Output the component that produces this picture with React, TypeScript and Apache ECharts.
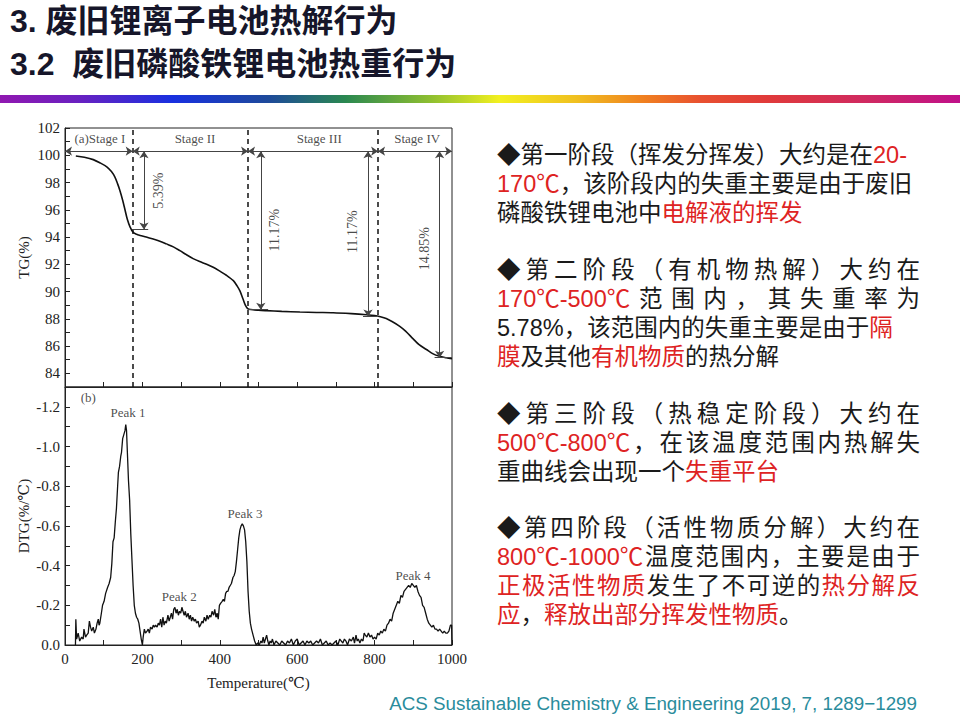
import React, { useEffect, useRef } from 'react';
import * as echarts from 'echarts';

// ---------- data ----------
const tgTemp = [28, 50, 73, 90, 108, 120, 129, 136, 142, 149, 155, 161, 168, 176, 185, 194, 210, 228, 245, 262, 280, 297, 314, 331, 348, 366, 383, 400, 417, 435, 445, 452, 460, 466, 472, 480, 500, 520, 560, 607, 650, 693, 740, 779, 800, 815, 830, 845, 865, 880, 899, 915, 934, 950, 968, 985, 1000];
const tgValue = [99.95, 99.85, 99.68, 99.45, 99.15, 98.8, 98.4, 97.9, 97.4, 96.7, 96.0, 95.3, 94.75, 94.35, 94.2, 94.12, 94.0, 93.85, 93.7, 93.5, 93.28, 93.0, 92.7, 92.42, 92.2, 92.0, 91.78, 91.5, 91.2, 90.8, 90.4, 90.05, 89.45, 89.0, 88.75, 88.68, 88.63, 88.6, 88.55, 88.5, 88.47, 88.45, 88.38, 88.3, 88.24, 88.15, 88.02, 87.8, 87.45, 87.1, 86.55, 86.1, 85.75, 85.45, 85.25, 85.15, 85.08];

const dtgTemp = [27, 28, 30, 34, 38, 43, 47, 49, 53, 56, 60, 63, 66, 69, 73, 76, 80, 83, 86, 88, 90, 94, 97, 101, 105, 110, 114, 118, 121, 124, 127, 130, 133, 136, 138, 141, 144, 146, 149, 152, 155, 157, 159, 161, 164, 167, 170, 173, 176, 179, 182, 185, 188, 191, 194, 197, 200, 202, 205, 208, 212, 215, 218, 221, 225, 228, 231, 234, 238, 241, 244, 247, 250, 253, 256, 259, 262, 266, 269, 272, 275, 278, 281, 284, 287, 290, 293, 296, 299, 302, 305, 308, 311, 314, 318, 321, 324, 327, 330, 334, 337, 340, 344, 347, 350, 354, 357, 360, 364, 367, 370, 374, 377, 380, 384, 387, 390, 393, 396, 399, 402, 406, 409, 412, 415, 418, 421, 424, 427, 430, 434, 437, 440, 443, 446, 449, 452, 455, 458, 461, 464, 467, 470, 473, 476, 479, 482, 486, 490, 494, 498, 502, 506, 509, 512, 515, 518, 521, 524, 527, 530, 533, 536, 540, 545, 550, 555, 560, 565, 570, 575, 580, 585, 590, 595, 600, 605, 610, 615, 620, 625, 630, 635, 640, 645, 650, 655, 660, 665, 670, 675, 680, 685, 690, 695, 700, 705, 710, 714, 718, 722, 726, 730, 735, 740, 745, 748, 752, 755, 758, 762, 766, 770, 773, 776, 780, 784, 788, 792, 796, 800, 804, 808, 812, 816, 820, 824, 828, 832, 836, 840, 844, 848, 852, 856, 860, 864, 868, 872, 876, 880, 884, 888, 892, 896, 900, 904, 908, 912, 916, 920, 924, 928, 932, 936, 940, 944, 948, 952, 956, 960, 964, 968, 972, 976, 980, 984, 988, 992, 996, 999, 1000];
const dtgValue = [0, -0.13, -0.03, -0.06, -0.02, -0.04, -0.03, -0.08, -0.04, -0.05, -0.06, -0.12, -0.09, -0.07, -0.09, -0.06, -0.08, -0.11, -0.13, -0.1, -0.11, -0.16, -0.2, -0.22, -0.26, -0.29, -0.31, -0.34, -0.41, -0.52, -0.54, -0.62, -0.69, -0.8, -0.87, -0.9, -0.95, -0.97, -1.04, -1.06, -1.08, -1.11, -1.08, -0.98, -0.83, -0.73, -0.56, -0.43, -0.3, -0.2, -0.16, -0.14, -0.13, -0.11, -0.07, -0.03, 0.0, -0.04, -0.08, -0.06, -0.07, -0.08, -0.06, -0.09, -0.08, -0.1, -0.09, -0.1, -0.09, -0.11, -0.1, -0.13, -0.09, -0.14, -0.1, -0.12, -0.11, -0.15, -0.12, -0.14, -0.16, -0.13, -0.18, -0.19, -0.16, -0.18, -0.15, -0.17, -0.16, -0.19, -0.17, -0.15, -0.17, -0.14, -0.16, -0.13, -0.15, -0.12, -0.14, -0.12, -0.13, -0.11, -0.12, -0.09, -0.1, -0.12, -0.11, -0.14, -0.12, -0.15, -0.13, -0.15, -0.14, -0.17, -0.15, -0.18, -0.14, -0.16, -0.13, -0.2, -0.21, -0.22, -0.23, -0.22, -0.26, -0.27, -0.27, -0.29, -0.3, -0.31, -0.34, -0.35, -0.37, -0.42, -0.48, -0.54, -0.58, -0.6, -0.61, -0.6, -0.58, -0.52, -0.42, -0.27, -0.17, -0.11, -0.08, -0.05, -0.02, 0.0, -0.01, 0.0, -0.02, -0.01, -0.04, -0.01, -0.03, -0.05, -0.02, 0, -0.02, -0.01, -0.03, 0, -0.02, -0.01, 0, -0.02, -0.01, 0, -0.02, -0.01, -0.03, 0, -0.02, -0.03, 0, -0.01, -0.02, 0, -0.02, -0.01, -0.02, 0, -0.01, -0.02, -0.01, -0.03, 0, -0.01, -0.02, 0, -0.01, 0, -0.01, -0.02, 0, -0.03, -0.02, -0.01, -0.03, -0.02, 0, -0.03, -0.02, -0.04, -0.01, -0.05, -0.02, -0.03, -0.01, -0.03, -0.02, -0.06, -0.05, -0.04, -0.06, -0.04, -0.05, -0.03, -0.04, -0.03, -0.06, -0.05, -0.07, -0.06, -0.08, -0.07, -0.1, -0.11, -0.13, -0.12, -0.16, -0.18, -0.2, -0.22, -0.21, -0.25, -0.24, -0.27, -0.28, -0.29, -0.3, -0.29, -0.31, -0.3, -0.29, -0.3, -0.27, -0.25, -0.24, -0.2, -0.19, -0.16, -0.13, -0.11, -0.1, -0.09, -0.1, -0.08, -0.08, -0.07, -0.08, -0.07, -0.06, -0.07, -0.06, -0.06, -0.07, -0.1, -0.1, 0];

const stageBounds = [0, 175, 473, 809, 1000];
const stageNames = ['(a)Stage I', 'Stage II', 'Stage III', 'Stage IV'];
const stageLabelTemp = [90, 336, 657, 910];
const stageLabelValue = 101.2;
const stageArrowValue = 100.3;

const lossArrowTemp = [204, 506, 783, 968];
const lossArrowEnd = [94.55, 88.67, 88.18, 85.15];
const lossTickFrom = [175, 473, 770, 955];
const lossTickTo = [215, 525, 809, 1000];
const lossLabels = ['5.39%', '11.17%', '11.17%', '14.85%'];
const lossLabelTemp = [241, 542, 744, 929];
const lossLabelValue = [97.4, 94.5, 94.4, 93.15];

const peakNames = ['Peak 1', 'Peak 2', 'Peak 3', 'Peak 4', '(b)'];
const peakTemp = [163, 295, 465, 899, 60];
const peakValue = [-1.17, -0.245, -0.665, -0.35, -1.245];

const titleLines = ['3. 废旧锂离子电池热解行为', '3.2  废旧磷酸铁锂电池热重行为'];
const footerText = 'ACS Sustainable Chemistry & Engineering 2019, 7, 1289−1299';

// each line: [segments [text, isRed], justify]
type Seg = [string, number];
const para1: [Seg[], boolean][] = [
  [[['◆第一阶段（挥发分挥发）大约是在', 0], ['20-', 1]], false],
  [[['170℃', 1], ['，该阶段内的失重主要是由于废旧', 0]], false],
  [[['磷酸铁锂电池中', 0], ['电解液的挥发', 1]], false],
];
const para2: [Seg[], boolean][] = [
  [[['◆第二阶段（有机物热解）大约在', 0]], true],
  [[['170℃-500℃', 1], ['范围内，其失重率为', 0]], true],
  [[['5.78%，该范围内的失重主要是由于', 0], ['隔', 1]], false],
  [[['膜', 1], ['及其他', 0], ['有机物质', 1], ['的热分解', 0]], false],
];
const para3: [Seg[], boolean][] = [
  [[['◆第三阶段（热稳定阶段）大约在', 0]], true],
  [[['500℃-800℃', 1], ['，在该温度范围内热解失', 0]], true],
  [[['重曲线会出现一个', 0], ['失重平台', 1]], false],
];
const para4: [Seg[], boolean][] = [
  [[['◆第四阶段（活性物质分解）大约在', 0]], true],
  [[['800℃-1000℃', 1], ['温度范围内，主要是由于', 0]], true],
  [[['正极活性物质', 1], ['发生了不可逆的', 0], ['热分解反', 1]], true],
  [[['应', 1], ['，', 0], ['释放出部分挥发性物质', 1], ['。', 0]], false],
];
const paraLineY = [
  [155, 184, 213],
  [270, 299, 328, 357],
  [414, 443, 472],
  [528, 557, 586, 615],
];

const TEXT_FONT = '"Liberation Sans", "Noto Sans CJK SC", sans-serif';
const SERIF = '"Liberation Serif", "DejaVu Serif", serif';

function buildTextGraphics(): any[] {
  const canvas = document.createElement('canvas');
  const ctx = canvas.getContext('2d')!;
  const size = 23.5;
  ctx.font = `${size}px ${TEXT_FONT}`;
  const x0 = 497;
  const x1 = 920;
  const black = '#1a1a1a';
  const red = '#de2323';
  const out: any[] = [];
  const paras = [para1, para2, para3, para4];
  paras.forEach((p, pi) => {
    p.forEach(([segs, justify], li) => {
      const y = paraLineY[pi][li];
      if (justify) {
        const tokens: { t: string; c: string; w: number }[] = [];
        segs.forEach(([txt, r]) => {
          const m = txt.match(/[0-9A-Za-z.%℃\-]+|[\s\S]/g) || [];
          m.forEach((t) => tokens.push({ t, c: r ? red : black, w: ctx.measureText(t).width }));
        });
        const total = tokens.reduce((a, b) => a + b.w, 0);
        const gap = tokens.length > 1 ? (x1 - x0 - total) / (tokens.length - 1) : 0;
        let x = x0;
        tokens.forEach((tk) => {
          out.push({
            type: 'text', x, y, silent: true,
            style: { text: tk.t, fill: tk.c, fontSize: size, fontFamily: TEXT_FONT, verticalAlign: 'middle', align: 'left' },
          });
          x += tk.w + gap;
        });
      } else {
        let x = x0;
        segs.forEach(([txt, r]) => {
          out.push({
            type: 'text', x, y, silent: true,
            style: { text: txt, fill: r ? red : black, fontSize: size, fontFamily: TEXT_FONT, verticalAlign: 'middle', align: 'left' },
          });
          x += ctx.measureText(txt).width;
        });
      }
    });
  });
  return out;
}

export default function App() {
  const ref = useRef<HTMLDivElement>(null);
  useEffect(() => {
    document.body.style.margin = '0';
    const chart = echarts.init(ref.current!, undefined, { renderer: 'svg' });

    const axisColor = '#222';
    const markData: any[] = [];
    stageBounds.slice(1, 4).forEach((t) => {
      markData.push({ xAxis: t, lineStyle: { type: [5, 4], color: '#111', width: 1.5 } });
    });
    const grey = { color: '#444', width: 1, type: 'solid' };
    for (let i = 0; i < 4; i++) {
      markData.push([
        { coord: [stageBounds[i], stageArrowValue], symbol: 'arrow', lineStyle: grey },
        { coord: [stageBounds[i + 1], stageArrowValue], symbol: 'arrow', lineStyle: grey },
      ]);
      markData.push([
        { coord: [lossArrowTemp[i], stageArrowValue], symbol: 'arrow', lineStyle: grey },
        { coord: [lossArrowTemp[i], lossArrowEnd[i]], symbol: 'arrow', lineStyle: grey },
      ]);
      markData.push([
        { coord: [lossTickFrom[i], lossArrowEnd[i]], symbol: 'none', lineStyle: grey },
        { coord: [lossTickTo[i], lossArrowEnd[i]], symbol: 'none', lineStyle: grey },
      ]);
    }

    const tickLabelStyle = { fontFamily: SERIF, fontSize: 15, color: '#222' };
    const nameStyle = { fontFamily: SERIF, fontSize: 15, color: '#222' };

    const option: any = {
      animation: false,
      backgroundColor: '#ffffff',
      grid: [
        { left: 65, top: 128, width: 387, height: 259, show: true, borderColor: axisColor, borderWidth: 1, backgroundColor: 'transparent' },
        { left: 65, top: 387, width: 387, height: 258, show: true, borderColor: axisColor, borderWidth: 1, backgroundColor: 'transparent' },
      ],
      xAxis: [
        {
          gridIndex: 0, type: 'value', min: 0, max: 1000, interval: 100,
          axisLine: { show: true, lineStyle: { color: axisColor } },
          axisTick: { show: true, inside: true, length: 5, lineStyle: { color: axisColor } },
          axisLabel: { show: false }, splitLine: { show: false },
        },
        {
          gridIndex: 1, type: 'value', min: 0, max: 1000, interval: 100,
          axisLine: { show: true, lineStyle: { color: axisColor } },
          axisTick: { show: true, inside: true, length: 5, lineStyle: { color: axisColor } },
          axisLabel: { ...tickLabelStyle, margin: 6, formatter: (v: number) => (Math.round(v) % 200 === 0 ? String(Math.round(v)) : '') },
          splitLine: { show: false },
          name: 'Temperature(℃)', nameLocation: 'middle', nameGap: 30, nameTextStyle: nameStyle,
        },
      ],
      yAxis: [
        {
          gridIndex: 0, type: 'value', min: 83, max: 102, interval: 1,
          axisLine: { show: true, lineStyle: { color: axisColor } },
          axisTick: { show: true, inside: true, length: 5, lineStyle: { color: axisColor } },
          axisLabel: { ...tickLabelStyle, margin: 5, formatter: (v: number) => (Math.round(v) % 2 === 0 ? String(Math.round(v)) : '') },
          splitLine: { show: false },
          name: 'TG(%)', nameLocation: 'middle', nameGap: 34, nameRotate: 90, nameTextStyle: nameStyle,
        },
        {
          gridIndex: 1, type: 'value', min: -1.3, max: 0, interval: 0.1, inverse: true,
          axisLine: { show: true, lineStyle: { color: axisColor } },
          axisTick: { show: true, inside: true, length: 5, lineStyle: { color: axisColor } },
          axisLabel: {
            ...tickLabelStyle, margin: 5,
            formatter: (v: number) => {
              const r = Math.round(v * 10);
              if (r % 2 !== 0) return '';
              return r === 0 ? '0.0' : (r / 10).toFixed(1);
            },
          },
          splitLine: { show: false },
          name: 'DTG(%/℃)', nameLocation: 'middle', nameGap: 34, nameRotate: 90, nameTextStyle: nameStyle,
        },
      ],
      series: [
        {
          type: 'line', xAxisIndex: 0, yAxisIndex: 0, symbol: 'none', smooth: 0.3,
          data: tgTemp.map((t, i) => [t, tgValue[i]]),
          lineStyle: { color: '#111', width: 1.6 },
          markLine: {
            silent: true, symbol: 'none', symbolSize: 7, label: { show: false },
            emphasis: { disabled: true },
            data: markData,
          },
        },
        {
          type: 'scatter', xAxisIndex: 0, yAxisIndex: 0, symbolSize: 0, silent: true,
          data: lossLabels.map((l, i) => ({ value: [lossLabelTemp[i], lossLabelValue[i]], name: l })),
          label: { show: true, position: 'inside', rotate: 90, formatter: (p: any) => p.name, fontFamily: SERIF, fontSize: 14, color: '#1a1a1a' },
        },
        {
          type: 'scatter', xAxisIndex: 0, yAxisIndex: 0, symbolSize: 0, silent: true,
          data: stageNames.map((l, i) => ({ value: [stageLabelTemp[i], stageLabelValue], name: l })),
          label: { show: true, position: 'inside', formatter: (p: any) => p.name, fontFamily: SERIF, fontSize: 13, color: '#1a1a1a' },
        },
        {
          type: 'line', xAxisIndex: 1, yAxisIndex: 1, symbol: 'none',
          data: dtgTemp.map((t, i) => [t, dtgValue[i]]),
          lineStyle: { color: '#111', width: 1.3 },
        },
        {
          type: 'scatter', xAxisIndex: 1, yAxisIndex: 1, symbolSize: 0, silent: true,
          data: peakNames.map((l, i) => ({ value: [peakTemp[i], peakValue[i]], name: l })),
          label: { show: true, position: 'inside', formatter: (p: any) => p.name, fontFamily: SERIF, fontSize: 13, color: '#1a1a1a' },
        },
      ],
      graphic: [
        {
          type: 'text', x: 10, y: 21, silent: true,
          style: { text: titleLines[0], fill: '#16162a', fontSize: 32, fontWeight: 'bold', fontFamily: TEXT_FONT, verticalAlign: 'middle' },
        },
        {
          type: 'text', x: 10, y: 64, silent: true,
          style: { text: titleLines[1], fill: '#16162a', fontSize: 32, fontWeight: 'bold', fontFamily: TEXT_FONT, verticalAlign: 'middle' },
        },
        {
          type: 'rect', silent: true,
          shape: { x: 0, y: 95, width: 960, height: 8 },
          style: {
            fill: new echarts.graphic.LinearGradient(0, 0, 1, 0, [
              { offset: 0, color: '#9018b0' },
              { offset: 0.08, color: '#6a20c0' },
              { offset: 0.18, color: '#1830e0' },
              { offset: 0.28, color: '#1e4a9a' },
              { offset: 0.36, color: '#2a8850' },
              { offset: 0.45, color: '#90c030' },
              { offset: 0.52, color: '#f2f020' },
              { offset: 0.6, color: '#f0c020' },
              { offset: 0.67, color: '#f08020' },
              { offset: 0.73, color: '#e85030' },
              { offset: 0.8, color: '#e03a3a' },
              { offset: 0.9, color: '#d02a60' },
              { offset: 1, color: '#c0108a' },
            ]),
          },
        },
        ...buildTextGraphics(),
        {
          type: 'text', x: 917, y: 703, silent: true,
          style: { text: footerText, fill: '#2a8c9c', fontSize: 18.8, fontFamily: '"Liberation Sans", Arial, sans-serif', align: 'right', verticalAlign: 'middle' },
        },
      ],
    };
    chart.setOption(option);
    return () => chart.dispose();
  }, []);
  return <div ref={ref} style={{ width: 960, height: 720 }} />;
}
